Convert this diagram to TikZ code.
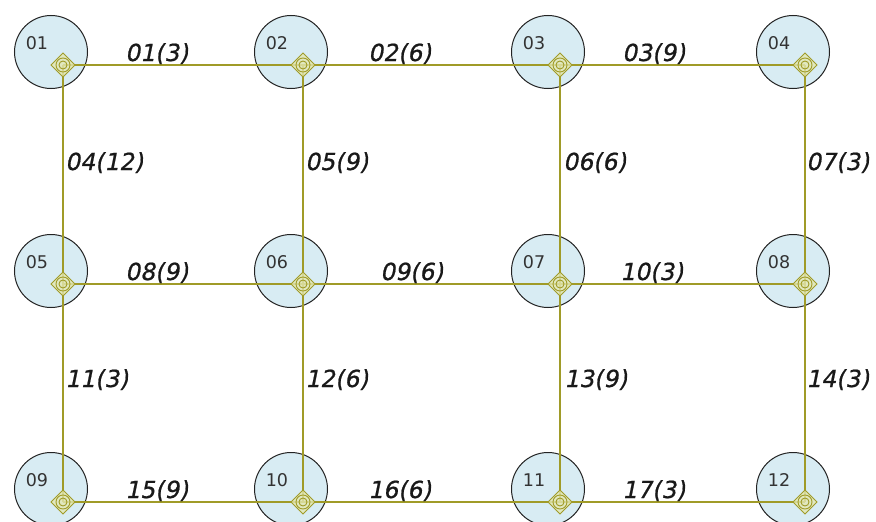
\documentclass[tikz,border=0pt]{standalone}
\usepackage{fontspec}
\setmainfont{DejaVu Sans}
\newfontfamily\lblfont[FakeBold=0.8,FakeSlant=0.2]{DejaVu Sans}
\definecolor{olivel}{RGB}{160,155,40}
\definecolor{circfill}{RGB}{216,236,243}
\definecolor{circline}{RGB}{35,35,35}
\definecolor{juncfill}{RGB}{228,232,178}
\begin{document}
\begin{tikzpicture}[x=1pt,y=-1pt,
  stationc/.style={circle,draw=circline,fill=circfill,line width=1pt,minimum size=73pt,inner sep=0pt},
  stationt/.style={font=\fontsize{17.5}{20}\selectfont,text=black!80,inner sep=0pt},
  junc/.style={inner sep=0pt,minimum size=0pt},
  edge/.style={draw=olivel,line width=1.6pt},
  elbl/.style={font=\lblfont\fontsize{23.5}{26}\selectfont,text=black!90,inner sep=0pt,anchor=base west}]
\useasboundingbox[fill=white] (0,0) rectangle (876,522);
% stations and junctions
\foreach \n/\x/\y in {01/63/65,02/303/65,03/560/65,04/805/65,
                      05/63/284,06/303/284,07/560/284,08/805/284,
                      09/63/502,10/303/502,11/560/502,12/805/502}{
  \node[stationc] (c\n) at (\x-12,\y-13) {};
  \node[stationt] (t\n) at (\x-26,\y-22) {\n};
  \node[junc] (j\n) at (\x,\y) {};
}
% connectors
\foreach \a/\b in {01/02,02/03,03/04,05/06,06/07,07/08,09/10,10/11,11/12,
                   01/05,02/06,03/07,04/08,05/09,06/10,07/11,08/12}{
  \draw[edge] (j\a) -- (j\b);
}
% junction symbols
\foreach \n in {01,02,03,04,05,06,07,08,09,10,11,12}{
  \draw[olivel,line width=0.9pt,fill=juncfill,fill opacity=0.8]
    ([xshift=-12pt]j\n.center) -- ([yshift=-12pt]j\n.center) -- ([xshift=12pt]j\n.center) -- ([yshift=12pt]j\n.center) -- cycle;
  \draw[olivel,line width=0.9pt] (j\n.center) circle (7pt);
  \draw[olivel,line width=0.9pt] (j\n.center) circle (4pt);
}
% edge labels (horizontal)
\node[elbl] (e01) at (125,61) {01(3)};
\node[elbl] (e02) at (368,61) {02(6)};
\node[elbl] (e03) at (622,61) {03(9)};
\node[elbl] (e08) at (125,280) {08(9)};
\node[elbl] (e09) at (380,280) {09(6)};
\node[elbl] (e10) at (620,280) {10(3)};
\node[elbl] (e15) at (125,498) {15(9)};
\node[elbl] (e16) at (368,498) {16(6)};
\node[elbl] (e17) at (622,498) {17(3)};
% edge labels (vertical)
\node[elbl] (e04) at (65,170) {04(12)};
\node[elbl] (e05) at (305,170) {05(9)};
\node[elbl] (e06) at (563,170) {06(6)};
\node[elbl] (e07) at (806,170) {07(3)};
\node[elbl] (e11) at (65,387) {11(3)};
\node[elbl] (e12) at (305,387) {12(6)};
\node[elbl] (e13) at (564,387) {13(9)};
\node[elbl] (e14) at (806,387) {14(3)};
\end{tikzpicture}
\end{document}
